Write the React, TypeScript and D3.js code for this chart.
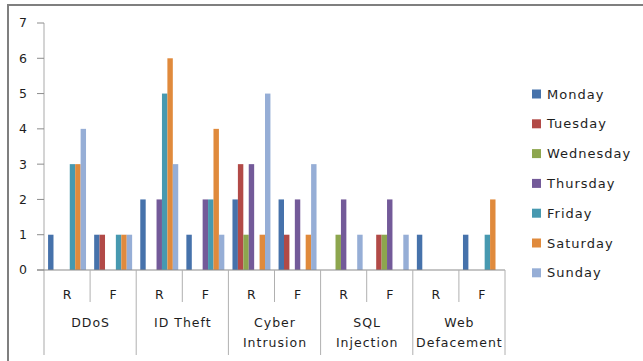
import React from "react";
import * as d3 from "d3";

const groups = ["DDoS", "ID Theft", "Cyber Intrusion", "SQL Injection", "Web Defacement"];
const groupLines = [["DDoS"], ["ID Theft"], ["Cyber", "Intrusion"], ["SQL", "Injection"], ["Web", "Defacement"]];
const subCats = ["R", "F"];
const days = ["Monday", "Tuesday", "Wednesday", "Thursday", "Friday", "Saturday", "Sunday"];
const colors = ["#4672AB", "#B24A47", "#8DA64E", "#735A99", "#4799B0", "#E08A3C", "#96AED6"];
const yTicks = [0, 1, 2, 3, 4, 5, 6, 7];

// values per category (DDoS R, DDoS F, ID Theft R, ...), ordered Monday..Sunday
const monday = [1, 1, 2, 1, 2, 2, 0, 0, 1, 1];
const tuesday = [0, 1, 0, 0, 3, 1, 0, 1, 0, 0];
const wednesday = [0, 0, 0, 0, 1, 0, 1, 1, 0, 0];
const thursday = [0, 0, 2, 2, 3, 2, 2, 2, 0, 0];
const friday = [3, 1, 5, 2, 0, 0, 0, 0, 0, 1];
const saturday = [3, 1, 6, 4, 1, 1, 0, 0, 0, 2];
const sunday = [4, 1, 3, 1, 5, 3, 1, 1, 0, 0];
const series = [monday, tuesday, wednesday, thursday, friday, saturday, sunday];

const categories = groups.flatMap((g) => subCats.map((s) => `${g}|${s}`));

export default function App() {
  const W = 643, H = 361;
  const x0 = d3.scaleBand<string>().domain(categories).range([44, 505]).paddingInner(0).paddingOuter(0);
  const x1 = d3.scaleBand<string>().domain(days).range([0, x0.bandwidth()]).paddingInner(0).paddingOuter(0.75);
  const y = d3.scaleLinear().domain([0, 7]).range([270, 23]);
  const font = "'DejaVu Sans', sans-serif";
  const txt = "#1e1e1e";
  const groupW = x0.bandwidth() * 2;

  return (
    <svg width={W} height={H} style={{ position: "absolute", left: 0, top: 0, background: "#fff" }}>
      {/* outer frame */}
      <path d={`M8,${H} V5 H${W}`} fill="none" stroke="#7f7f7f" strokeWidth={2} />
      {/* y axis */}
      <line x1={44} x2={44} y1={y(7)} y2={355} stroke="#b8b8b8" strokeWidth={1.2} />
      {yTicks.map((t) => (
        <g key={t}>
          <line x1={37} x2={44} y1={y(t)} y2={y(t)} stroke="#8c8c8c" strokeWidth={1} />
          <text x={27} y={y(t)} dy="0.35em" textAnchor="end" fontFamily={font} fontSize={12.5} fill={txt}>{t}</text>
        </g>
      ))}
      {/* bars */}
      {series.map((vals, si) =>
        vals.map((v, ci) =>
          v > 0 ? (
            <rect key={`${si}-${ci}`} x={(x0(categories[ci]) as number) + (x1(days[si]) as number)} y={y(v)}
              width={x1.bandwidth()} height={y(0) - y(v)} fill={colors[si]} />
          ) : null
        )
      )}
      {/* x axis */}
      <line x1={37} x2={505} y1={270} y2={270} stroke="#8c8c8c" strokeWidth={1.2} />
      {categories.map((c, i) => (
        <g key={c}>
          {i % 2 === 1 ? (
            <line x1={x0(c)} x2={x0(c)} y1={270} y2={302} stroke="#b0b0b0" strokeWidth={1} />
          ) : null}
          <text x={(x0(c) as number) + x0.bandwidth() / 2} y={295} dy="0.35em" textAnchor="middle" fontFamily={font} fontSize={12.5} fill={txt}>
            {subCats[i % 2]}
          </text>
        </g>
      ))}
      {groups.map((g, gi) => {
        const gx = x0(`${g}|R`) as number;
        return (
          <g key={g}>
            <line x1={gx + groupW} x2={gx + groupW} y1={270} y2={355} stroke="#b0b0b0" strokeWidth={1} />
            {groupLines[gi].map((ln, li) => (
              <text key={li} x={gx + groupW / 2 + 0.5} y={323 + li * 20} dy="0.35em" textAnchor="middle" fontFamily={font} fontSize={12.5} letterSpacing={1} fill={txt}>
                {ln}
              </text>
            ))}
          </g>
        );
      })}
      {/* legend */}
      {days.map((d, i) => (
        <g key={d} transform={`translate(532, ${94 + i * 29.8})`}>
          <rect x={0} y={-4.5} width={9} height={9} fill={colors[i]} />
          <text x={15} y={0} dy="0.35em" fontFamily={font} fontSize={13} letterSpacing={1} fill={txt}>{d}</text>
        </g>
      ))}
    </svg>
  );
}
